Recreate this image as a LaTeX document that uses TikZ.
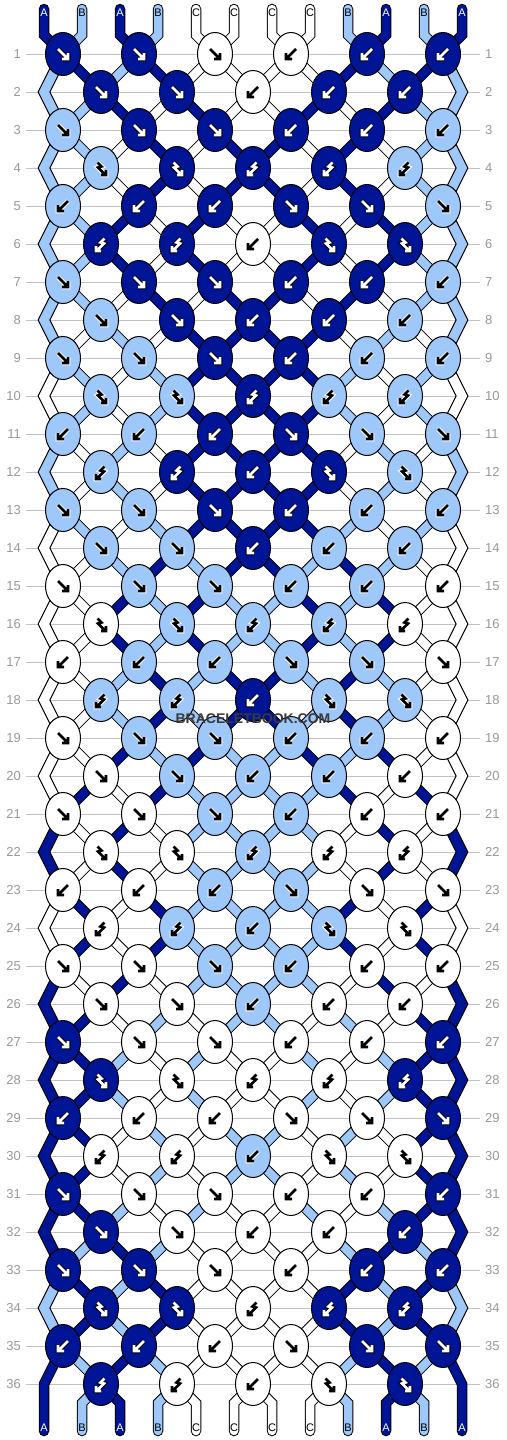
\documentclass[tikz,border=0pt]{standalone}
\usepackage{fontspec}
\setmainfont{Liberation Sans}
\usetikzlibrary{shapes.geometric}
\definecolor{cA}{HTML}{001596}
\definecolor{cB}{HTML}{9FC8FA}
\definecolor{cC}{HTML}{FFFFFF}
\definecolor{gridgray}{HTML}{C2C2C2}
\definecolor{numgray}{HTML}{999999}
\definecolor{wmgray}{HTML}{3A3A3A}
\tikzset{
  knot/.style={ellipse, draw=black, line width=1pt, minimum width=35pt, minimum height=43pt, inner sep=0pt},
  strline/.style={line width=10.5pt, line cap=round, line join=miter, draw=black},
  strcore/.style={line width=8.5pt, line cap=round, line join=miter},
  edgeband/.style={line width=1pt, draw=black, line join=miter},
  rownum/.style={font=\fontsize{13}{13}\selectfont, text=numgray, inner sep=0pt},
  endlabel/.style={font=\fontsize{11}{11}\selectfont, inner sep=0pt},
  glyphstroke/.style={line cap=square, line join=miter},
  gl-f/.pic={\draw[glyphstroke] (-5,-5)--(4,4) (5,-1)--(5,5)--(-1,5);},
  gl-b/.pic={\draw[glyphstroke] (5,-5)--(-4,4) (-5,-1)--(-5,5)--(1,5);},
  gl-r/.pic={\draw[glyphstroke] (-3.5,-5.5)--(0.5,-1.5)--(-3,-0.5)--(4,6.5) (5,2)--(5,7)--(0,7);},
  gl-l/.pic={\draw[glyphstroke] (3.5,-5.5)--(-0.5,-1.5)--(3,-0.5)--(-4,6.5) (-5,2)--(-5,7)--(0,7);},
}
\newcommand\strc[1]{\csname strX#1\endcsname}
\newcommand\setstr[2]{\expandafter\xdef\csname strX#1\endcsname{#2}}
\expandafter\def\csname patX1\endcsname{f,f,f,b,b,b}
\expandafter\def\csname patX2\endcsname{f,f,b,b,b}
\expandafter\def\csname patX3\endcsname{f,f,f,b,b,b}
\expandafter\def\csname patX4\endcsname{r,r,l,l,l}
\expandafter\def\csname patX5\endcsname{b,b,b,f,f,f}
\expandafter\def\csname patX0\endcsname{l,l,b,r,r}
\newcommand\putglyph[1]{%
  \pic[color=\gout, line width=4.6pt] at (\xx,\yy) {#1};
  \pic[color=\gmain, line width=2.6pt] at (\xx,\yy) {#1};
}
\newcommand\segdraw[1]{%
  \ifnum\passmode=0 \draw[strline] #1;\else\draw[strcore, draw=\scol] #1;\fi}
\begin{document}
\begin{tikzpicture}[x=1pt,y=-1pt]
\useasboundingbox (0,0) rectangle (506,1440);
\fill[white] (0,0) rectangle (506,1440);
% ---------- simulation of the strings ----------
\setstr{1}{A}\setstr{2}{B}\setstr{3}{A}\setstr{4}{B}\setstr{5}{C}\setstr{6}{C}
\setstr{7}{C}\setstr{8}{C}\setstr{9}{B}\setstr{10}{A}\setstr{11}{B}\setstr{12}{A}
\foreach \pos in {1,...,12}{\expandafter\xdef\csname sgX0-\pos\endcsname{\strc{\pos}}}
\foreach \row in {1,...,36}{
  \pgfmathtruncatemacro\rtype{mod(\row,6)}
  \expandafter\let\expandafter\curpat\csname patX\rtype\endcsname
  \foreach \code [count=\kk] in \curpat {
    \ifodd\row
      \pgfmathtruncatemacro\pos{2*\kk-1}
    \else
      \pgfmathtruncatemacro\pos{2*\kk}
    \fi
    \pgfmathtruncatemacro\qpos{\pos+1}
    \edef\lft{\strc{\pos}}
    \edef\rgt{\strc{\qpos}}
    \if\code f\edef\kc{\lft}\setstr{\pos}{\rgt}\setstr{\qpos}{\lft}\fi
    \if\code b\edef\kc{\rgt}\setstr{\pos}{\rgt}\setstr{\qpos}{\lft}\fi
    \if\code r\edef\kc{\lft}\fi
    \if\code l\edef\kc{\rgt}\fi
    \expandafter\xdef\csname knX\row-\kk\endcsname{\kc}
  }
  \foreach \pos in {1,...,12}{\expandafter\xdef\csname sgX\row-\pos\endcsname{\strc{\pos}}}
}
% ---------- grid, row numbers, coordinates ----------
\foreach \row in {1,...,36}{
  \pgfmathsetmacro\yy{54+38*(\row-1)}
  \node[rownum, anchor=east] (ln-\row) at (21,\yy) {\row};
  \node[rownum, anchor=west] (rn-\row) at (485,\yy) {\row};
  \draw[gridgray, line width=1pt] (26,\yy) -- (480,\yy);
  \foreach \pos in {1,...,12}{
    \pgfmathsetmacro\xx{44+38*(\pos-1)+19*(1-2*mod(\row+\pos,2))}
    \ifodd\row\else
      \ifnum\pos=1 \def\xx{44}\fi
      \ifnum\pos=12 \def\xx{462}\fi
    \fi
    \coordinate (P-\row-\pos) at (\xx,\yy);
  }
}
\foreach \pos in {1,...,12}{
  \pgfmathsetmacro\xx{44+38*(\pos-1)}
  \coordinate (T-\pos) at (\xx,9);
  \coordinate (U-\pos) at (\xx,35);
  \coordinate (Q-\pos) at (\xx,1403);
  \coordinate (E-\pos) at (\xx,1431);
}
% ---------- strings: outline pass then colour pass ----------
\foreach \passmode in {0,1}{
  \foreach \pos in {1,...,12}{
    \edef\scol{c\csname sgX0-\pos\endcsname}
    \segdraw{(T-\pos) -- (U-\pos) -- (P-1-\pos)}
  }
  \foreach \row in {1,...,35}{
    \pgfmathtruncatemacro\nxt{\row+1}
    \pgfmathtruncatemacro\nnx{\row+2}
    \foreach \pos in {1,...,12}{
      \edef\scol{c\csname sgX\row-\pos\endcsname}
      \def\isedge{0}
      \ifnum\pos=1 \def\isedge{1}\fi
      \ifnum\pos=12 \def\isedge{1}\fi
      \ifnum\isedge=0
        \segdraw{(P-\row-\pos) -- (P-\nxt-\pos)}
      \else
        \ifodd\row
          \ifnum\row=35
            \segdraw{(P-\row-\pos) -- (P-\nxt-\pos) -- (E-\pos)}
          \else
            \ifnum\passmode=1
              \filldraw[edgeband, fill=\scol] ([xshift=-5.85pt]P-\row-\pos) -- ([xshift=-5.85pt]P-\nxt-\pos) -- ([xshift=-5.85pt]P-\nnx-\pos) -- ([xshift=5.85pt]P-\nnx-\pos) -- ([xshift=5.85pt]P-\nxt-\pos) -- ([xshift=5.85pt]P-\row-\pos) -- cycle;
            \fi
          \fi
        \fi
      \fi
    }
  }
  \foreach \pos in {2,...,11}{
    \edef\scol{c\csname sgX36-\pos\endcsname}
    \segdraw{(P-36-\pos) -- (Q-\pos) -- (E-\pos)}
  }
}
% ---------- knots ----------
\foreach \row in {1,...,36}{
  \pgfmathtruncatemacro\rtype{mod(\row,6)}
  \expandafter\let\expandafter\curpat\csname patX\rtype\endcsname
  \pgfmathsetmacro\yy{54+38*(\row-1)}
  \foreach \code [count=\kk] in \curpat {
    \ifodd\row
      \pgfmathtruncatemacro\pos{2*\kk-1}
    \else
      \pgfmathtruncatemacro\pos{2*\kk}
    \fi
    \edef\kc{\csname knX\row-\kk\endcsname}
    \if A\kc \def\gmain{white}\def\gout{black}\else\def\gmain{black}\def\gout{white}\fi
    \edef\kfill{c\kc}
    \pgfmathsetmacro\xx{44+38*(\pos-1)+19}
    \node[knot, fill=\kfill] (k-\row-\kk) at (\xx,\yy) {};
    \edef\gname{gl-\code}
    \expandafter\putglyph\expandafter{\gname}
  }
}
% ---------- end labels ----------
\foreach \pos in {1,...,12}{
  \pgfmathsetmacro\xx{44+38*(\pos-1)}
  \edef\lcolA{\if A\csname sgX0-\pos\endcsname white\else black\fi}
  \edef\lcolB{\if A\csname sgX36-\pos\endcsname white\else black\fi}
  \node[endlabel, text=\lcolA] (tl-\pos) at (\xx,13) {\csname sgX0-\pos\endcsname};
  \node[endlabel, text=\lcolB] (bl-\pos) at (\xx,1428) {\csname sgX36-\pos\endcsname};
}
\node[font=\bfseries\fontsize{14}{14}\selectfont, text=wmgray, inner sep=0pt] (wm) at (253,719) {BRACELETBOOK.COM};
\end{tikzpicture}
\end{document}
